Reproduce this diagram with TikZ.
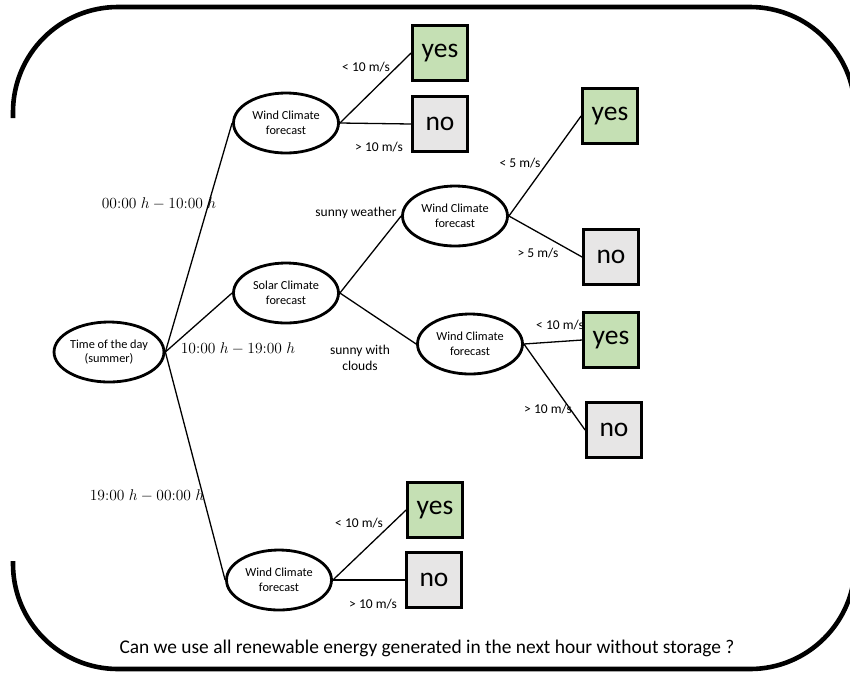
\RequirePackage{fix-cm}
\documentclass[tikz,border=0pt]{standalone}
\usepackage{fontspec}
\setmainfont{Carlito}
\usetikzlibrary{shapes.geometric}
\definecolor{yesgreen}{HTML}{C5E0B4}
\definecolor{nogray}{HTML}{E7E6E6}
\tikzset{
  question/.style={draw, ellipse, line width=2.8pt, minimum width=105pt,
    minimum height=60pt, inner sep=0pt, align=center,
    font=\fontsize{12.3}{14.5}\selectfont},
  answer/.style={draw, line width=2.8pt, minimum size=55pt, inner sep=0pt,
    font=\fontsize{27.5}{30}\selectfont},
  yesbox/.style={answer, fill=yesgreen},
  nobox/.style={answer, fill=nogray},
  branch/.style={line width=1.3pt},
  cond/.style={inner sep=0pt, font=\fontsize{13.5}{16}\selectfont},
  hours/.style={inner sep=0pt, font=\fontsize{15.5}{18}\selectfont},
  frame/.style={line width=4.6pt, rounded corners=105pt}
}
\begin{document}
\begin{tikzpicture}[x=1pt, y=-1pt]
  \useasboundingbox (0,0) rectangle (850,673);
  \clip (0,0) rectangle (850,673);
  \draw[frame] (13,118) |- (855,7) -- (855,300);
  \draw[frame] (13,561) |- (855,669) -- (855,300);

  \node[question] (root) at (109,352) {Time of the day\\(summer)};
  \node[question] (wind1) at (286,123) {Wind Climate\\forecast};
  \node[question] (solar) at (286,293) {Solar Climate\\forecast};
  \node[question] (wind2) at (455,216) {Wind Climate\\forecast};
  \node[question] (wind3) at (470,344) {Wind Climate\\forecast};
  \node[question] (wind4) at (279,580) {Wind Climate\\forecast};

  \node[yesbox] (yes1) at (440,53) {yes};
  \node[nobox] (no1) at (440,124) {no};
  \node[yesbox] (yes2) at (610,116) {yes};
  \node[nobox] (no2) at (611,257) {no};
  \node[yesbox] (yes3) at (611,340) {yes};
  \node[nobox] (no3) at (614,430) {no};
  \node[yesbox] (yes4) at (435,510) {yes};
  \node[nobox] (no4) at (434,580) {no};

  \draw[branch] (root.east) -- (wind1.west);
  \draw[branch] (root.east) -- (solar.west);
  \draw[branch] (root.east) -- (wind4.west);
  \draw[branch] (wind1.east) -- (yes1.west);
  \draw[branch] (wind1.east) -- (no1.west);
  \draw[branch] (solar.east) -- (wind2.west);
  \draw[branch] (solar.east) -- (wind3.west);
  \draw[branch] (wind2.east) -- (yes2.west);
  \draw[branch] (wind2.east) -- (no2.west);
  \draw[branch] (wind3.east) -- (yes3.west);
  \draw[branch] (wind3.east) -- (no3.west);
  \draw[branch] (wind4.east) -- (yes4.west);
  \draw[branch] (wind4.east) -- (no4.west);

  \node[hours] (morning) at (159,204) {$00{:}00\;h - 10{:}00\;h$};
  \node[hours] (midday) at (238,349) {$10{:}00\;h - 19{:}00\;h$};
  \node[hours] (evening) at (147,496) {$19{:}00\;h - 00{:}00\;h$};
  \node[cond] (sunny) at (356,213) {sunny weather};
  \node[cond, align=center] (cloudy) at (360,358) {sunny with\\clouds};
  \node[cond] (lowa) at (366,67) {< 10 m/s};
  \node[cond] (higha) at (379,147) {> 10 m/s};
  \node[cond] (lowb) at (520,163) {< 5 m/s};
  \node[cond] (highb) at (538,253) {> 5 m/s};
  \node[cond] (lowc) at (560,325) {< 10 m/s};
  \node[cond] (highc) at (548,409) {> 10 m/s};
  \node[cond] (lowd) at (359,523) {< 10 m/s};
  \node[cond] (highd) at (373,604) {> 10 m/s};
  \node[anchor=base, inner sep=0pt, font=\fontsize{19.4}{22}\selectfont] (question)
    at (427,653) {Can we use all renewable energy generated in the next hour without storage ?};
\end{tikzpicture}
\end{document}
